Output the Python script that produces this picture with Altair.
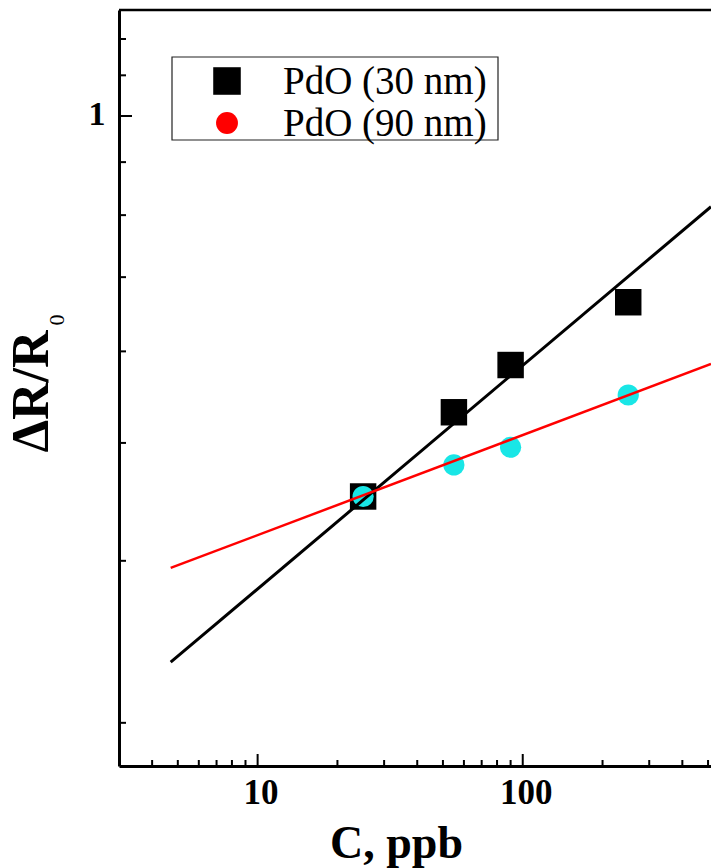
import altair as alt
import pandas as pd

# ---- data ----
conc = [25, 55, 90, 250]                       # C, ppb
dr_30nm = [0.4511, 0.5310, 0.5836, 0.6640]     # PdO (30 nm)
dr_90nm = [0.4511, 0.4791, 0.4958, 0.5495]     # PdO (90 nm)
fit_x = [4.7, 513]
fit_30nm = [0.3333, 0.8149]
fit_90nm = [0.3948, 0.5848]
series_names = ["PdO (30 nm)", "PdO (90 nm)"]
x_major = [10, 100]
x_minor = [4, 5, 6, 7, 8, 9, 20, 30, 40, 50, 60, 70, 80, 90, 200, 300, 400, 500]
y_major = [1]
y_minor = [0.3, 0.4, 0.5, 0.6, 0.7, 0.8, 0.9, 1.1, 1.2]

W, H = 592, 756
FONT = "Liberation Serif"

pts = pd.DataFrame({"c": conc, "a": dr_30nm, "b": dr_90nm})
fits = pd.DataFrame({"c": fit_x, "a": fit_30nm, "b": fit_90nm})

xs = alt.Scale(type="log", domain=[3, 513], nice=False)
ys = alt.Scale(type="pow", exponent=-0.25, domain=[0.2788, 1.2882], nice=False, zero=False)

x_axis = alt.Axis(values=x_major, format="d", ticks=False, tickSize=0, grid=False,
                  domainColor="black", domainWidth=3,
                  labelFont=FONT, labelFontSize=35, labelFontWeight="bold", labelColor="black",
                  labelBaseline="alphabetic", labelPadding=37, labelOffset=3, labelOverlap=False,
                  title="C, ppb", titleFont=FONT, titleFontSize=46, titleFontWeight="bold",
                  titleColor="black", titleX=277, titleY=91, titleAlign="center",
                  titleBaseline="alphabetic")
y_axis = alt.Axis(values=y_major, format="d", ticks=False, tickSize=0, grid=False,
                  domainColor="black", domainWidth=3,
                  labelFont=FONT, labelFontSize=34, labelFontWeight="bold", labelColor="black",
                  labelBaseline="alphabetic", labelPadding=14, labelOffset=8, labelOverlap=False,
                  title="ΔR/R", titleFont=FONT, titleFontSize=52, titleFontWeight="bold",
                  titleColor="black", titleAngle=270, titleX=-72, titleY=381,
                  titleAlign="center", titleBaseline="alphabetic")

X = lambda f: alt.X(f, type="quantitative", scale=xs, axis=x_axis)
Y = lambda f: alt.Y(f, type="quantitative", scale=ys, axis=y_axis)

squares = alt.Chart(pts).mark_square(size=700, color="black", opacity=1).encode(x=X("c"), y=Y("a"))
circles = alt.Chart(pts).mark_circle(size=450, color="#19E6E6", opacity=1).encode(x=X("c"), y=Y("b"))
line_a = alt.Chart(fits).mark_line(color="black", strokeWidth=3, clip=True).encode(x=X("c"), y=Y("a"))
line_b = alt.Chart(fits).mark_line(color="#FF0000", strokeWidth=2.5, clip=True).encode(x=X("c"), y=Y("b"))

# inward ticks
xt_major = alt.Chart(pd.DataFrame({"v": x_major})).mark_rule(color="black", strokeWidth=2).encode(
    x=X("v"), y=alt.value(H), y2=alt.value(H - 12))
xt_minor = alt.Chart(pd.DataFrame({"v": x_minor})).mark_rule(color="black", strokeWidth=2).encode(
    x=X("v"), y=alt.value(H), y2=alt.value(H - 6))
yt_major = alt.Chart(pd.DataFrame({"v": y_major})).mark_rule(color="black", strokeWidth=2).encode(
    y=Y("v"), x=alt.value(0), x2=alt.value(13))
yt_minor = alt.Chart(pd.DataFrame({"v": y_minor})).mark_rule(color="black", strokeWidth=2).encode(
    y=Y("v"), x=alt.value(0), x2=alt.value(7))

top_border = alt.Chart(alt.Data(values=[{}])).mark_rule(color="black", strokeWidth=2.5).encode(
    x=alt.value(0), x2=alt.value(W), y=alt.value(0))

sub0 = alt.Chart(alt.Data(values=[{"t": "0"}])).mark_text(
    font=FONT, fontSize=22, angle=270, align="center", baseline="alphabetic", color="black"
).encode(x=alt.value(-55), y=alt.value(310), text="t:N")

# legend
leg_box = alt.Chart(alt.Data(values=[{}])).mark_rect(fill="white", stroke="#222222", strokeWidth=1.2).encode(
    x=alt.value(53), x2=alt.value(379), y=alt.value(47), y2=alt.value(130))
leg_sq = alt.Chart(alt.Data(values=[{}])).mark_square(size=760, color="black", opacity=1).encode(
    x=alt.value(108), y=alt.value(71))
leg_ci = alt.Chart(alt.Data(values=[{}])).mark_circle(size=480, color="#FF0000", opacity=1).encode(
    x=alt.value(108), y=alt.value(113))
leg_t1 = alt.Chart(alt.Data(values=[{"t": series_names[0]}])).mark_text(
    font=FONT, fontSize=39, align="left", baseline="middle", color="black"
).encode(x=alt.value(164), y=alt.value(72), text="t:N")
leg_t2 = alt.Chart(alt.Data(values=[{"t": series_names[1]}])).mark_text(
    font=FONT, fontSize=39, align="left", baseline="middle", color="black"
).encode(x=alt.value(164), y=alt.value(114), text="t:N")

chart = alt.layer(
    squares, circles, line_a, line_b,
    xt_major, xt_minor, yt_major, yt_minor, top_border, sub0,
    leg_box, leg_sq, leg_ci, leg_t1, leg_t2
).properties(
    width=W, height=H, autosize="none",
    padding={"left": 119, "top": 10, "right": 0, "bottom": 102}
).configure_view(stroke=None).configure(background="white")

chart.save("out.html", embed_options={"renderer": "svg", "actions": False})
